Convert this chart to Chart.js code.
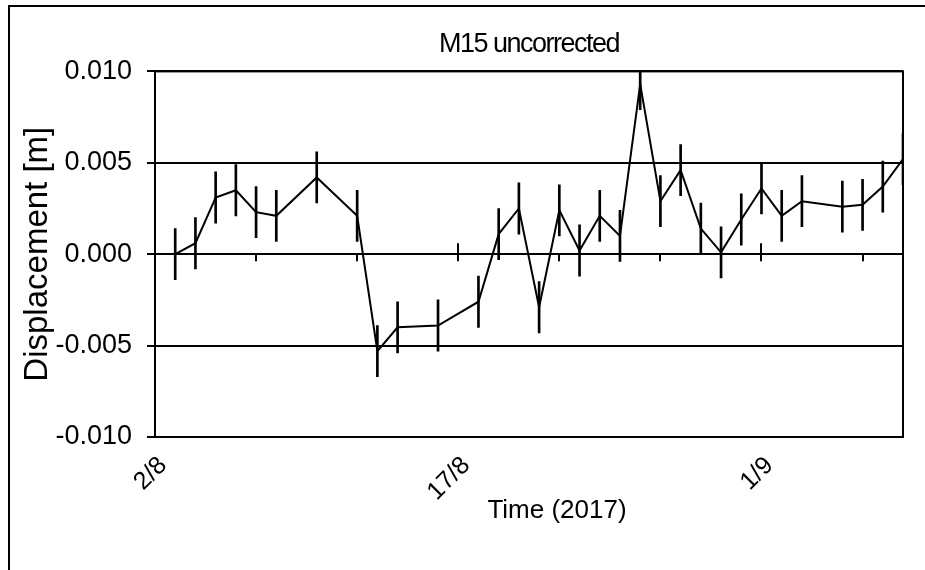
<!DOCTYPE html>
<html>
<head>
<meta charset="utf-8">
<script src="https://cdn.jsdelivr.net/npm/chart.js@4.4.1/dist/chart.umd.min.js"></script>
<style>
    html, body { margin: 0; padding: 0; background: #fff; }
    #wrap { width: 925px; height: 570px; }
</style>
</head>
<body>
<div id="wrap"><canvas id="m15-chart" width="925" height="570"></canvas></div>
<script>
// M15 uncorrected - displacement over time (2017)

const startDate = '2017-08-02';
const endDate = '2017-09-08';

const dates = [
    '2017-08-03', '2017-08-04', '2017-08-05', '2017-08-06', '2017-08-07', '2017-08-08',
    '2017-08-10', '2017-08-12', '2017-08-13', '2017-08-14', '2017-08-16', '2017-08-18',
    '2017-08-19', '2017-08-20', '2017-08-21', '2017-08-22', '2017-08-23', '2017-08-24',
    '2017-08-25', '2017-08-26', '2017-08-27', '2017-08-28', '2017-08-29', '2017-08-30',
    '2017-08-31', '2017-09-01', '2017-09-02', '2017-09-03', '2017-09-05', '2017-09-06',
    '2017-09-07', '2017-09-08'
];
const displacement = [
    0.0000, 0.0006, 0.0031, 0.0035, 0.0023, 0.0021,
    0.0042, 0.0021, -0.0053, -0.0040, -0.0039, -0.0026,
    0.0011, 0.0025, -0.0029, 0.0024, 0.0002, 0.0021,
    0.0010, 0.0093, 0.0029, 0.0046, 0.0014, 0.0001,
    0.0019, 0.0036, 0.0021, 0.0029, 0.0026, 0.0027,
    0.0037, 0.0052
];
const errors = [
    0.0014, 0.0014, 0.0014, 0.0014, 0.0014, 0.0014,
    0.0014, 0.0014, 0.0014, 0.0014, 0.0014, 0.0014,
    0.0014, 0.0014, 0.0014, 0.0014, 0.0014, 0.0014,
    0.0014, 0.0014, 0.0014, 0.0014, 0.0014, 0.0014,
    0.0014, 0.0014, 0.0014, 0.0014, 0.0014, 0.0014,
    0.0014, 0.0014
];
const yTicks = [-0.010, -0.005, 0.000, 0.005, 0.010];
const xTickLabels = ['2/8', '17/8', '1/9'];
const xTitle = 'Time (2017)';

const DAY = 86400000;
const t0 = Date.parse(startDate);

// days since start date, used as the x value
function dayOf(s) {
    return Math.round((Date.parse(s) - t0) / DAY);
}

function dayLabel(v) {
    const d = new Date(t0 + v * DAY);
    return d.getUTCDate() + '/' + (d.getUTCMonth() + 1);
}

const linePoints = dates.map((s, i) => ({ x: dayOf(s), y: displacement[i] }));
const errorBars = dates.map((s, i) => ({ x: dayOf(s), y: [displacement[i] - errors[i], displacement[i] + errors[i]] }));

const FONT = "'Liberation Sans', Arial, sans-serif";

// outer border, plot frame, zero-line tick marks and the x axis title
const framePlugin = {
    id: 'frame',
    beforeDraw(chart) {
        const ctx = chart.ctx;
        // tighter letter spacing for the chart title
        const tb = chart.titleBlock;
        if (tb && !tb._tight) {
            const draw = tb.draw.bind(tb);
            tb.draw = function(area) {
                chart.ctx.save();
                chart.ctx.letterSpacing = '-1.5px';
                draw(area);
                chart.ctx.restore();
            };
            tb._tight = true;
        }
        ctx.save();
        ctx.strokeStyle = '#000';
        ctx.lineWidth = 2;
        ctx.beginPath();
        ctx.moveTo(chart.width, 6);
        ctx.lineTo(9, 6);
        ctx.lineTo(9, chart.height);
        ctx.stroke();
        ctx.restore();
    },
    afterDraw(chart) {
        const ctx = chart.ctx;
        const a = chart.chartArea;
        const xs = chart.scales.x;
        const y0 = chart.scales.y.getPixelForValue(0);
        ctx.save();
        ctx.strokeStyle = '#000';
        ctx.lineWidth = 2;
        ctx.strokeRect(a.left, a.top, a.right - a.left, a.bottom - a.top);
        ctx.beginPath();
        xs.ticks.forEach(t => {
            const px = Math.round(xs.getPixelForValue(t.value));
            const major = xTickLabels.includes(dayLabel(t.value));
            ctx.moveTo(px, major ? y0 - 11 : y0);
            ctx.lineTo(px, y0 + 7);
        });
        ctx.stroke();

        // axis title sits a little right of the plot centre
        ctx.fillStyle = '#000';
        ctx.font = '26px ' + FONT;
        ctx.textAlign = 'center';
        ctx.textBaseline = 'middle';
        ctx.fillText(xTitle, (a.left + a.right) / 2 + 28, xs.bottom - 59);
        ctx.restore();
    }
};

const ctx = document.getElementById('m15-chart').getContext('2d');

new Chart(ctx, {
    type: 'line',
    data: {
        datasets: [
            {
                type: 'line',
                label: 'M15',
                data: linePoints,
                borderColor: '#000',
                borderWidth: 2,
                pointRadius: 0,
                tension: 0,
                fill: false
            },
            {
                type: 'bar',
                label: 'error',
                data: errorBars,
                backgroundColor: '#000',
                borderWidth: 0,
                barThickness: 2,
                grouped: false
            }
        ]
    },
    options: {
        responsive: false,
        animation: false,
        layout: {
            padding: { left: 0, right: 22, top: 0, bottom: 0 }
        },
        plugins: {
            legend: { display: false },
            tooltip: { enabled: false },
            title: {
                display: true,
                fullSize: false,
                text: 'M15 uncorrected',
                color: '#000',
                font: { family: FONT, size: 27, weight: 'normal' },
                padding: { top: 28, bottom: 11 }
            }
        },
        scales: {
            x: {
                type: 'linear',
                min: 0,
                max: dayOf(endDate),
                offset: false,
                grid: { display: false, offset: false },
                border: { display: true, color: '#000', width: 2 },
                ticks: {
                    stepSize: 5,
                    includeBounds: false,
                    autoSkip: false,
                    minRotation: 45,
                    maxRotation: 45,
                    padding: 6,
                    labelOffset: 8,
                    color: '#000',
                    font: { family: FONT, size: 25 },
                    callback: function(value) {
                        const lab = dayLabel(value);
                        return xTickLabels.includes(lab) ? lab : '';
                    }
                },
                title: { display: false },
                afterFit: function(scale) {
                    scale.height = 133;
                }
            },
            y: {
                min: -0.010,
                max: 0.010,
                afterBuildTicks: function(scale) {
                    scale.ticks = yTicks.map(v => ({ value: v }));
                },
                grid: {
                    color: '#000',
                    lineWidth: 2,
                    tickLength: 8
                },
                border: { display: true, color: '#000', width: 2 },
                ticks: {
                    padding: 15,
                    color: '#000',
                    font: { family: FONT, size: 27 },
                    callback: function(value) {
                        return value.toFixed(3);
                    }
                },
                title: {
                    display: true,
                    text: 'Displacement [m]',
                    color: '#000',
                    font: { family: FONT, size: 33 },
                    padding: { top: 18, bottom: 18 }
                },
                afterFit: function(scale) {
                    scale.width = 155;
                }
            }
        }
    },
    plugins: [framePlugin]
});
</script>
</body>
</html>
